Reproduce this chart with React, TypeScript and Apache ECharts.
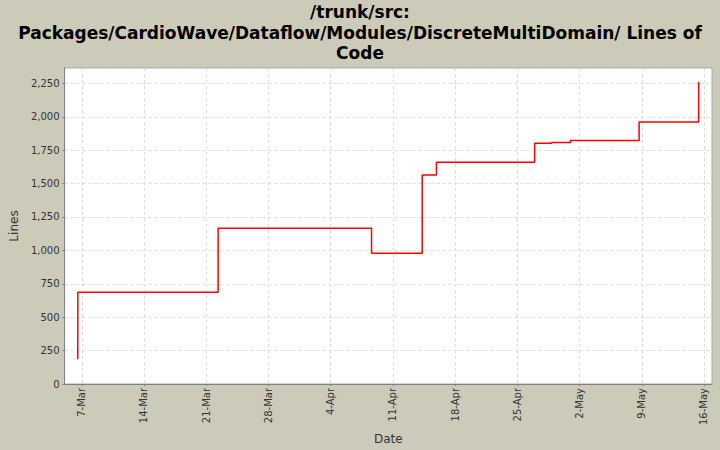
import React, { useEffect, useRef } from "react";
import * as echarts from "echarts";

// x: days since 7-Mar, y: lines of code
const changeDays = [-0.45, -0.44, 15.34, 32.6, 38.3, 39.9, 50.95, 52.85, 54.98, 62.7, 69.4];
const lineCounts = [185, 686, 1165, 978, 1564, 1659, 1801, 1808, 1823, 1960, 2260];
const tickDays = [0, 7, 14, 21, 28, 35, 42, 49, 56, 63, 70];
const tickLabels = ["7-Mar", "14-Mar", "21-Mar", "28-Mar", "4-Apr", "11-Apr", "18-Apr", "25-Apr", "2-May", "9-May", "16-May"];

const TITLE = "/trunk/src:\nPackages/CardioWave/Dataflow/Modules/DiscreteMultiDomain/ Lines of\nCode";
const FONT = "DejaVu Sans";

export default function App() {
  const ref = useRef<HTMLDivElement>(null);
  useEffect(() => {
    if (!ref.current) return;
    const chart = echarts.init(ref.current, undefined, { renderer: "svg" });
    const data = changeDays.map((d, i) => [d, lineCounts[i]]);
    chart.setOption({
      animation: false,
      backgroundColor: "#cccbb9",
      title: {
        text: TITLE,
        left: "center",
        top: -3,
        textStyle: { fontFamily: FONT, fontSize: 17, fontWeight: "bold", color: "#000", lineHeight: 20.5 },
      },
      grid: {
        left: 62,
        right: 8,
        top: 68,
        bottom: 66,
        show: true,
        backgroundColor: "#ffffff",
        borderColor: "#a8a8a8",
        borderWidth: 1,
      },
      xAxis: {
        type: "value",
        min: -1.94,
        max: 70.9,
        name: "Date",
        nameLocation: "middle",
        nameGap: 44,
        nameTextStyle: { fontFamily: FONT, fontSize: 12, color: "#333" },
        axisLine: { show: true, onZero: false, lineStyle: { color: "#808080" } },
        axisTick: { show: true, length: 2, customValues: tickDays, lineStyle: { color: "#808080" } },
        axisLabel: {
          customValues: tickDays,
          rotate: 90,
          fontFamily: FONT,
          fontSize: 10,
          color: "#333",
          margin: 4,
          formatter: (v: number) => tickLabels[tickDays.indexOf(Math.round(v))] ?? "",
        },
        splitLine: { show: true, lineStyle: { color: "#dadada", type: [3, 3], width: 1 } },
      },
      yAxis: {
        type: "value",
        min: 0,
        max: 2365,
        interval: 250,
        name: "Lines",
        nameLocation: "middle",
        nameGap: 39,
        nameRotate: 90,
        nameTextStyle: { fontFamily: FONT, fontSize: 12, color: "#333" },
        axisLine: { show: true, onZero: false, lineStyle: { color: "#808080" } },
        axisTick: { show: true, length: 2, lineStyle: { color: "#808080" } },
        axisLabel: {
          fontFamily: FONT,
          fontSize: 10,
          color: "#333",
          margin: 5,
          showMaxLabel: false,
          formatter: (v: number) => v.toLocaleString("en-US"),
        },
        splitLine: { show: true, lineStyle: { color: "#dadada", type: [3, 3], width: 1 } },
      },
      series: [
        {
          type: "line",
          step: "end",
          data,
          symbol: "none",
          lineStyle: { color: "#ff0000", width: 1.5 },
        },
      ],
    });
    return () => chart.dispose();
  }, []);
  return <div ref={ref} style={{ width: 720, height: 450, position: "absolute", left: 0, top: 0 }} />;
}
